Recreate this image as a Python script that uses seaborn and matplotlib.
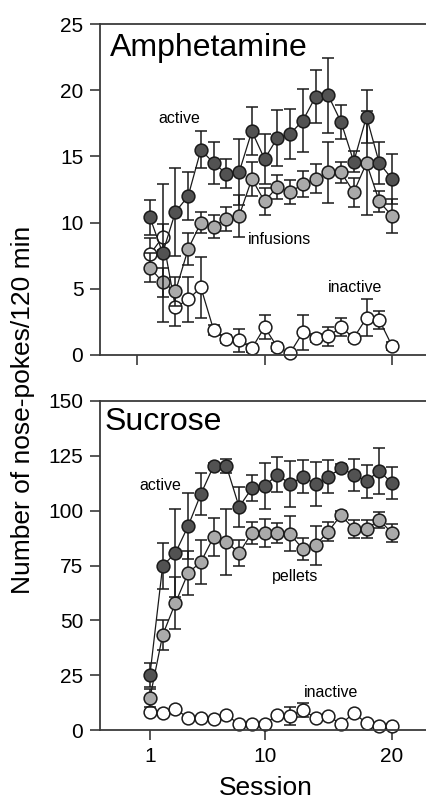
import matplotlib
matplotlib.use("Agg")
import matplotlib.pyplot as plt
import seaborn as sns

sessions = list(range(1, 21))

# Amphetamine panel
amph_active = [10.4, 7.7, 10.8, 12.0, 15.5, 14.5, 13.7, 13.8, 16.9, 14.8,
               16.4, 16.7, 17.7, 19.5, 19.6, 17.6, 14.6, 18.0, 14.5, 13.3]
amph_active_err = [1.3, 5.2, 3.3, 1.8, 1.4, 1.6, 1.1, 2.5, 1.8, 1.9,
                   2.1, 1.9, 2.4, 2.0, 2.8, 1.3, 0.8, 2.0, 1.6, 1.9]
amph_infusions = [6.6, 5.5, 4.8, 8.0, 10.0, 9.7, 10.3, 10.5, 13.3, 11.6,
                  12.7, 12.3, 12.9, 13.3, 13.8, 13.8, 12.3, 14.5, 11.6, 10.5]
amph_infusions_err = [1.1, 1.1, 1.1, 1.2, 0.8, 0.9, 0.9, 1.6, 1.3, 1.0,
                      0.9, 0.9, 1.0, 1.1, 2.3, 0.8, 1.1, 3.9, 0.8, 1.3]
amph_inactive = [7.6, 8.9, 3.6, 4.2, 5.1, 1.9, 1.2, 1.1, 0.5, 2.1,
                 0.6, 0.15, 1.7, 1.3, 1.4, 2.1, 1.3, 2.8, 2.65, 0.7]
amph_inactive_err = [1.2, 1.0, 1.4, 1.7, 2.3, 0.4, 0.3, 0.9, 0.3, 0.9,
                     0.3, 0.1, 1.3, 0.3, 0.7, 0.7, 0.3, 1.4, 0.7, 0.3]

# Sucrose panel
suc_active = [25.1, 74.8, 80.7, 93.0, 107.6, 120.4, 120.4, 101.7, 110.2, 111.3,
              116.3, 112.2, 115.4, 112.2, 115.4, 119.5, 116.3, 113.5, 118.1, 112.6]
suc_active_err = [5.4, 10.3, 20.0, 15.0, 9.4, 1.5, 3.0, 9.0, 6.0, 10.4,
                  8.0, 10.5, 7.5, 10.0, 7.5, 2.0, 7.3, 7.5, 10.5, 7.5]
suc_pellets = [14.6, 43.3, 57.9, 71.6, 76.6, 88.0, 85.7, 80.7, 89.8, 90.0,
               89.8, 89.4, 82.5, 84.2, 90.5, 98.0, 91.6, 91.6, 95.8, 89.8]
suc_pellets_err = [4.0, 7.0, 12.0, 10.0, 10.0, 8.7, 15.0, 6.0, 5.0, 6.4,
                   4.6, 8.0, 5.0, 9.0, 4.5, 2.0, 4.0, 4.0, 3.6, 4.0]
suc_inactive = [8.2, 7.7, 9.6, 5.5, 5.5, 5.0, 6.8, 2.7, 2.7, 2.7,
                6.8, 6.4, 9.1, 5.5, 6.4, 2.7, 7.7, 3.2, 1.8, 1.8]
suc_inactive_err = [1.0, 1.0, 1.0, 1.0, 1.0, 1.0, 1.0, 0.8, 0.8, 0.8,
                    1.0, 4.0, 3.2, 1.0, 1.0, 0.8, 1.0, 0.8, 0.8, 0.8]

DARK = "#525252"
GREY = "#aaaaaa"
WHITE = "#ffffff"
INK = "#1a1a1a"

sns.set_style("ticks")
plt.rcParams['font.family'] = ['Liberation Sans', 'DejaVu Sans']
plt.rcParams['text.color'] = 'black'
plt.rcParams['xtick.color'] = 'black'
plt.rcParams['ytick.color'] = 'black'

fig = plt.figure(figsize=(4.26, 8), dpi=100)
ax1 = fig.add_axes([0.2347, 0.55625, 0.7653, 0.41375])
ax2 = fig.add_axes([0.2347, 0.0875, 0.7653, 0.41125])


def draw_panel(ax, series):
    for y, err, fc, z in series:
        ax.errorbar(sessions, y, yerr=err, fmt='none', ecolor=INK,
                    elinewidth=1.1, capsize=4, capthick=1.1, zorder=z,
                    clip_on=False)
        sns.lineplot(x=sessions, y=y, ax=ax, errorbar=None, color=INK, lw=0.9,
                     marker='o', markersize=9.2, markerfacecolor=fc,
                     markeredgecolor=INK, markeredgewidth=1.1,
                     zorder=z + 0.5, clip_on=False)


draw_panel(ax1, [(amph_inactive, amph_inactive_err, WHITE, 2),
                 (amph_infusions, amph_infusions_err, GREY, 3),
                 (amph_active, amph_active_err, DARK, 4)])
draw_panel(ax2, [(suc_inactive, suc_inactive_err, WHITE, 2),
                 (suc_pellets, suc_pellets_err, GREY, 3),
                 (suc_active, suc_active_err, DARK, 4)])

for ax in (ax1, ax2):
    ax.set_xlim(-2.92, 22.67)
    ax.spines['right'].set_visible(False)
    for s in ('left', 'bottom', 'top'):
        ax.spines[s].set_color('#3a3a3a')
        ax.spines[s].set_linewidth(1.3)
    ax.tick_params(direction='out', length=7, width=1.2, color='#3a3a3a',
                   labelcolor='black', labelsize=15, pad=5)
    ax.tick_params(top=False, right=False)
    ax.set_xlabel('')
    ax.set_ylabel('')

ax1.set_ylim(0, 25)
ax1.set_yticks([0, 5, 10, 15, 20, 25])
ax1.set_xticks([0, 10, 20])
ax1.set_xticklabels([])

ax2.set_ylim(0, 150)
ax2.set_yticks([0, 25, 50, 75, 100, 125, 150])
ax2.set_xticks([1, 10, 20])

ax1.text(0.03, 0.903, 'Amphetamine', transform=ax1.transAxes, fontsize=23,
         va='baseline', ha='left')
ax2.text(0.015, 0.912, 'Sucrose', transform=ax2.transAxes, fontsize=23,
         va='baseline', ha='left')

ax1.text(3.3, 17.9, 'active', fontsize=11.5, ha='center', va='center')
ax1.text(11.2, 8.7, 'infusions', fontsize=11.5, ha='center', va='center')
ax1.text(17.1, 5.1, 'inactive', fontsize=11.5, ha='center', va='center')
ax2.text(1.8, 111.3, 'active', fontsize=11.5, ha='center', va='center')
ax2.text(12.4, 70.2, 'pellets', fontsize=11.5, ha='center', va='center')
ax2.text(15.2, 17.3, 'inactive', fontsize=11.5, ha='center', va='center')

fig.text(0.054, 0.4875, 'Number of nose-pokes/120 min', rotation=90,
         fontsize=19, ha='center', va='center')
fig.text(0.6245, 0.015, 'Session', fontsize=19, ha='center', va='center')

fig.savefig('out.png', dpi=100)
